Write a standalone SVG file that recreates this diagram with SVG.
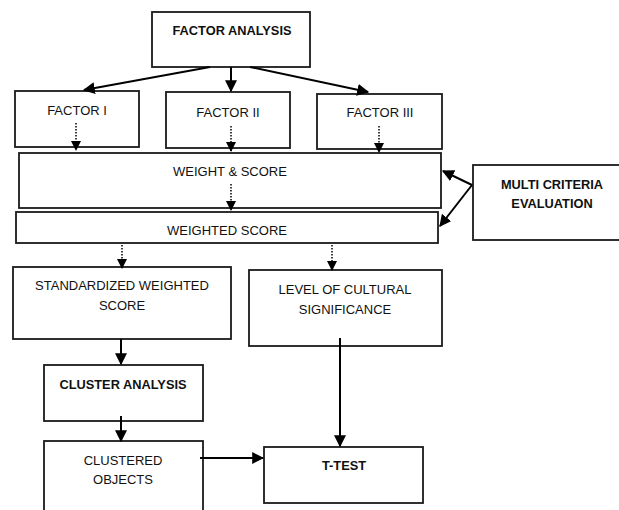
<svg xmlns="http://www.w3.org/2000/svg" width="619" height="510" viewBox="0 0 619 510">
<style>
.box{fill:#fff;stroke:#1a1a1a;stroke-width:1.8}
.t{font-family:"Liberation Sans",Arial,sans-serif;font-size:13px;fill:#111;text-anchor:middle}
.b{font-weight:bold;font-size:12.8px}
.c{stroke:#000;stroke-width:2;fill:none}
.d{stroke:#000;stroke-width:1.5;fill:none;stroke-dasharray:1.5 1.5}
</style>
<defs>
<marker id="ah" markerUnits="userSpaceOnUse" markerWidth="12" markerHeight="12" viewBox="0 0 10 10" refX="9" refY="5" orient="auto">
<path d="M0,0 L10,5 L0,10 z" fill="#000"/>
</marker>
<marker id="dh" markerUnits="userSpaceOnUse" markerWidth="10" markerHeight="10" viewBox="0 0 10 10" refX="9" refY="5" orient="auto">
<path d="M0,0 L10,5 L0,10 z" fill="#000"/>
</marker>
</defs>
<rect width="619" height="510" fill="#fff"/>
<g id="factor-analysis"><rect class="box" x="152" y="12" width="158" height="55"/><text class="t b" x="232" y="34.5">FACTOR ANALYSIS</text></g>
<g id="factor-1"><rect class="box" x="15" y="91" width="124" height="56"/><text class="t" x="77" y="115">FACTOR I</text></g>
<g id="factor-2"><rect class="box" x="166" y="92" width="124" height="56"/><text class="t" x="228" y="116.5">FACTOR II</text></g>
<g id="factor-3"><rect class="box" x="317" y="94" width="125" height="55"/><text class="t" x="380" y="117">FACTOR III</text></g>
<g id="weight-score"><rect class="box" x="19" y="153" width="422" height="55"/><text class="t" x="230" y="176">WEIGHT &amp; SCORE</text></g>
<g id="weighted-score"><rect class="box" x="16" y="212" width="422" height="31"/><text class="t" x="227" y="234.5">WEIGHTED SCORE</text></g>
<g id="mce"><rect class="box" x="473" y="165" width="150" height="75"/><text class="t b" x="552" y="188.5">MULTI CRITERIA</text><text class="t b" x="552" y="207.5">EVALUATION</text></g>
<g id="standardized"><rect class="box" x="13" y="267" width="218" height="72"/><text class="t" x="122" y="289.5">STANDARDIZED WEIGHTED</text><text class="t" x="122" y="309.5">SCORE</text></g>
<g id="level"><rect class="box" x="249" y="270" width="193" height="76"/><text class="t" x="345" y="293.5">LEVEL OF CULTURAL</text><text class="t" x="345" y="313.5">SIGNIFICANCE</text></g>
<g id="cluster-analysis"><rect class="box" x="44" y="365" width="159" height="56"/><text class="t b" x="123" y="388.5">CLUSTER ANALYSIS</text></g>
<g id="clustered-objects"><rect class="box" x="44" y="441" width="159" height="75"/><text class="t" x="123" y="464.5">CLUSTERED</text><text class="t" x="123" y="483.5">OBJECTS</text></g>
<g id="t-test"><rect class="box" x="264" y="447" width="159" height="56"/><text class="t b" x="344" y="469.5">T-TEST</text></g>
<g id="connectors">
<line class="c" x1="210" y1="67" x2="84" y2="90" marker-end="url(#ah)"/>
<line class="c" x1="231" y1="67" x2="231" y2="91" marker-end="url(#ah)"/>
<line class="c" x1="250" y1="67" x2="368" y2="92" marker-end="url(#ah)"/>
<line class="d" x1="76" y1="123" x2="76" y2="150" marker-end="url(#dh)"/>
<line class="d" x1="231" y1="126" x2="231" y2="151" marker-end="url(#dh)"/>
<line class="d" x1="379" y1="126" x2="379" y2="152" marker-end="url(#dh)"/>
<line class="d" x1="231" y1="184" x2="231" y2="210" marker-end="url(#dh)"/>
<line class="c" x1="472" y1="185" x2="443" y2="171" marker-end="url(#ah)"/>
<line class="c" x1="472" y1="185" x2="440" y2="226" marker-end="url(#ah)"/>
<line class="d" x1="122" y1="245" x2="122" y2="268" marker-end="url(#dh)"/>
<line class="d" x1="332" y1="245" x2="332" y2="270" marker-end="url(#dh)"/>
<line class="c" x1="121" y1="339" x2="121" y2="364" marker-end="url(#ah)"/>
<line class="c" x1="121" y1="416" x2="121" y2="441" marker-end="url(#ah)"/>
<line class="c" x1="340" y1="338" x2="340" y2="446" marker-end="url(#ah)"/>
<line class="c" x1="200" y1="458" x2="263" y2="458" marker-end="url(#ah)"/>
</g>
</svg>
